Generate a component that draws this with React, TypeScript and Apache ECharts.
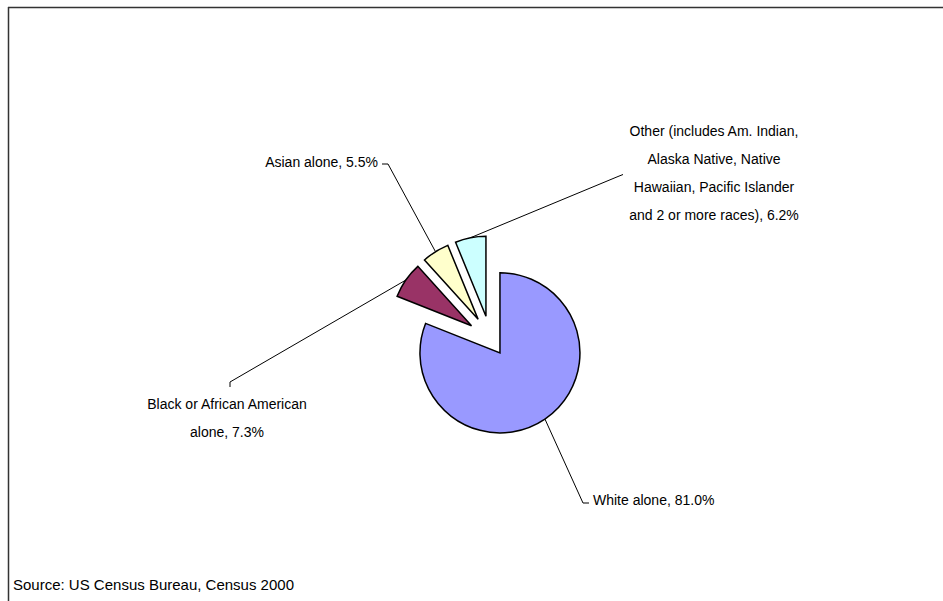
import React, { useEffect, useRef } from 'react';
import * as echarts from 'echarts';

const categories = [
  'White alone',
  'Black or African American alone',
  'Asian alone',
  'Other (includes Am. Indian, Alaska Native, Native Hawaiian, Pacific Islander and 2 or more races)',
];
const labelTexts = [
  'White alone',
  'Black or African American\nalone',
  'Asian alone',
  'Other (includes Am. Indian,\nAlaska Native, Native\nHawaiian, Pacific Islander\nand 2 or more races)',
];
const percentages = [81.0, 7.3, 5.5, 6.2];
const sourceNote = 'Source: US Census Bureau, Census 2000';

const colors = ['#9999FF', '#993366', '#FFFFCC', '#CCFFFF'];
const explodeOffsets = [17, 23, 23, 23];
const FONT = '"Liberation Sans", Arial, sans-serif';
const CENTER = [490.4, 338.8];
const RADIUS = 80;

// label placement (layout only)
const labelPlacement = [
  { x: 593, y: 500, align: 'left', tail: [[583, 503], [589, 503]] },
  { x: 227, y: 418, align: 'center', tail: [[230, 382], [230, 387]] },
  { x: 378, y: 162, align: 'right', tail: [[388, 164], [382, 164]] },
  { x: 714, y: 172.5, align: 'center', tail: [[618, 176.5], [623, 174.5]] },
];

export default function App() {
  const ref = useRef<HTMLDivElement>(null);
  useEffect(() => {
    if (!ref.current) return;
    const chart = echarts.init(ref.current, undefined, { renderer: 'svg' });
    const total = percentages.reduce((a, b) => a + b, 0);
    const midAngles: number[] = [];
    let acc = 0;
    percentages.forEach((v) => {
      const a = (v / total) * 360;
      midAngles.push(acc + a / 2);
      acc += a;
    });
    const centers = midAngles.map((m, i) => {
      const r = (m * Math.PI) / 180;
      return [CENTER[0] + explodeOffsets[i] * Math.sin(r), CENTER[1] - explodeOffsets[i] * Math.cos(r)];
    });
    const anchors = midAngles.map((m, i) => {
      const r = (m * Math.PI) / 180;
      return [centers[i][0] + RADIUS * Math.sin(r), centers[i][1] - RADIUS * Math.cos(r)];
    });

    const series = percentages.map((_, i) => ({
      type: 'pie',
      center: centers[i],
      radius: RADIUS,
      startAngle: 90,
      clockwise: true,
      silent: true,
      avoidLabelOverlap: false,
      emphasis: { disabled: true },
      z: i === 0 ? 2 : 3,
      label: {
        position: 'outside',
        fontFamily: FONT,
        fontSize: 14,
        color: '#000',
        lineHeight: 28,
        formatter: (p: any) => `${labelTexts[p.dataIndex]}, ${Number(p.value).toFixed(1)}%`,
      },
      labelLine: { length: 20, length2: 5, lineStyle: { color: '#000', width: 1 } },
      labelLayout: (p: any) => {
        const pl = labelPlacement[p.dataIndex];
        return {
          x: pl.x,
          y: pl.y,
          align: pl.align,
          verticalAlign: 'middle',
          labelLinePoints: [anchors[p.dataIndex], pl.tail[0], pl.tail[1]],
        };
      },
      data: percentages.map((v, j) => ({
        value: v,
        name: categories[j],
        itemStyle:
          j === i
            ? { color: colors[j], borderColor: '#000', borderWidth: 1.5, borderJoin: 'miter' }
            : { color: 'rgba(0,0,0,0)', borderWidth: 0 },
        label: { show: j === i },
        labelLine: { show: j === i },
      })),
    }));

    chart.setOption({
      animation: false,
      backgroundColor: '#fff',
      title: {
        text: sourceNote,
        left: 13,
        top: 577,
        padding: 0,
        textStyle: { fontFamily: FONT, fontSize: 15, fontWeight: 'normal', color: '#000' },
      },
      graphic: [
        { type: 'line', shape: { x1: 8, y1: 7.5, x2: 943, y2: 7.5 }, style: { stroke: '#333', lineWidth: 1.5 } },
        { type: 'line', shape: { x1: 8.5, y1: 7, x2: 8.5, y2: 601 }, style: { stroke: '#333', lineWidth: 1.5 } },
      ],
      series,
    } as any);
    return () => chart.dispose();
  }, []);
  return (
    <div
      ref={ref}
      style={{ position: 'absolute', left: 0, top: 0, width: 943, height: 601, background: '#fff' }}
    />
  );
}
